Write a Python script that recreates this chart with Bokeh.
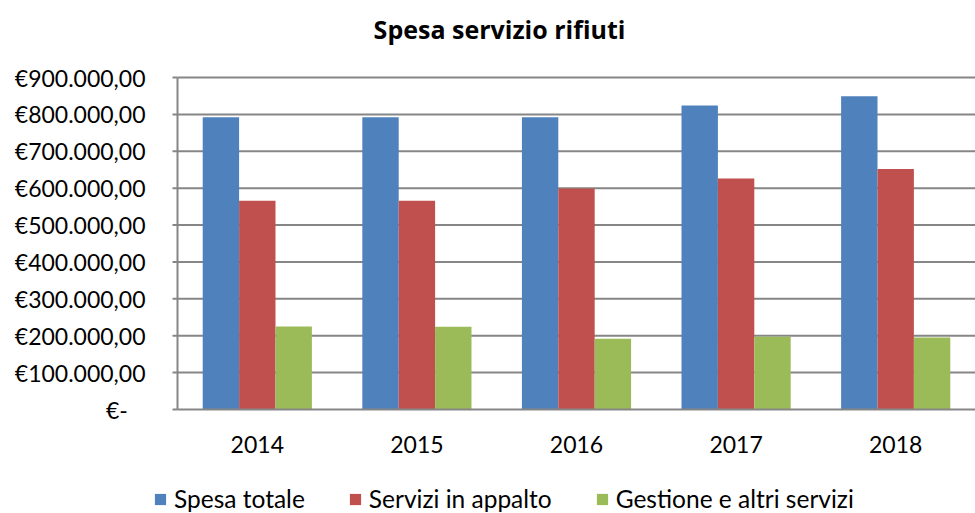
import math
from bokeh.plotting import figure
from bokeh.models import ColumnDataSource, Legend, LegendItem, Label, Range1d
from bokeh.core.properties import value
from bokeh.embed import file_html
from bokeh.resources import INLINE

# ---- data ----
years = ["2014", "2015", "2016", "2017", "2018"]
spesa_totale = [792000, 792000, 792000, 824000, 849000]
servizi_appalto = [566000, 566000, 599000, 626000, 652000]
gestione_altri = [225000, 224000, 192000, 197000, 195000]

series_names = ["Spesa totale", "Servizi in appalto", "Gestione e altri servizi"]
colors = ["#4F81BD", "#C0504D", "#9BBB59"]

y_ticks = [0, 100000, 200000, 300000, 400000, 500000, 600000, 700000, 800000, 900000]
y_tick_labels = ["€-\u00a0\u00a0\u00a0", "€100.000,00", "€200.000,00", "€300.000,00", "€400.000,00",
                 "€500.000,00", "€600.000,00", "€700.000,00", "€800.000,00", "€900.000,00"]
title_text = "Spesa servizio rifiuti"

# ---- layout constants (pixels) ----
W, H = 975, 513
plot_left, plot_top, plot_bottom = 177, 77, 409
n = len(years)
cat_px = (W - plot_left) / n
y_max = y_ticks[-1]
per_px = y_max / (plot_bottom - plot_top)

X0 = -0.5 - plot_left / cat_px
X1 = X0 + W / cat_px
Y1 = y_max + plot_top * per_px
Y0 = -(H - plot_bottom) * per_px

FONT = "Lato"
GRID = "#868686"

idx = list(range(n))
src = ColumnDataSource(dict(x=idx, years=years, a=spesa_totale, b=servizi_appalto, c=gestione_altri))

p = figure(width=W, height=H, x_range=Range1d(X0, X1), y_range=Range1d(Y0, Y1),
           min_border=0, x_axis_location=None, y_axis_location=None,
           output_backend="svg", toolbar_location=None)
p.outline_line_color = None
p.background_fill_color = "white"
p.border_fill_color = "white"
p.grid.visible = False

left_edge = -0.5
right_edge = n - 0.5

# horizontal gridlines
p.segment(x0=left_edge, x1=right_edge, y0=y_ticks[1:], y1=y_ticks[1:],
          line_color=GRID, line_width=2)

# bars
bw = 0.228
src.data["x1"] = [i - bw for i in idx]
src.data["x2"] = [i for i in idx]
src.data["x3"] = [i + bw for i in idx]
r1 = p.vbar(x="x1", top="a", width=bw, source=src, fill_color=colors[0], line_color=None)
r2 = p.vbar(x="x2", top="b", width=bw, source=src, fill_color=colors[1], line_color=None)
r3 = p.vbar(x="x3", top="c", width=bw, source=src, fill_color=colors[2], line_color=None)

# axis lines and ticks
p.segment(x0=[left_edge], x1=[left_edge], y0=[0], y1=[y_max], line_color=GRID, line_width=2)
p.segment(x0=[left_edge], x1=[right_edge], y0=[0], y1=[0], line_color=GRID, line_width=2)
p.ray(x=left_edge, y=y_ticks, length=5, length_units="screen", angle=math.pi,
      line_color=GRID, line_width=2)

# y tick labels
p.text(x=left_edge, y=y_ticks, text=y_tick_labels, x_offset=-32,
       text_align="right", text_baseline="middle", text_font=value(FONT),
       text_font_size="23px", text_color="black")

# x tick labels
p.text(x="x", y=0, text="years", source=src, y_offset=35,
       text_align="center", text_baseline="middle", text_font=value(FONT),
       text_font_size="23px", text_color="black")

# title
p.add_layout(Label(x=499, y=H - 28, x_units="screen", y_units="screen", text=title_text,
                   text_font="Open Sans", text_font_style="bold", text_font_size="25px",
                   text_align="center", text_baseline="middle", text_color="black"))

# legend
legend = Legend(items=[LegendItem(label=series_names[0], renderers=[r1]),
                       LegendItem(label=series_names[1], renderers=[r2]),
                       LegendItem(label=series_names[2], renderers=[r3])],
                orientation="horizontal", location=(153, 0))
legend.label_text_font = FONT
legend.label_text_font_size = "24.5px"
legend.label_text_color = "black"
legend.glyph_width = 14
legend.glyph_height = 14
legend.label_standoff = 7
legend.spacing = 43
legend.padding = 4
legend.margin = 0
legend.border_line_color = None
legend.background_fill_alpha = 0
p.add_layout(legend)

open("out.html", "w").write(file_html(p, INLINE))
